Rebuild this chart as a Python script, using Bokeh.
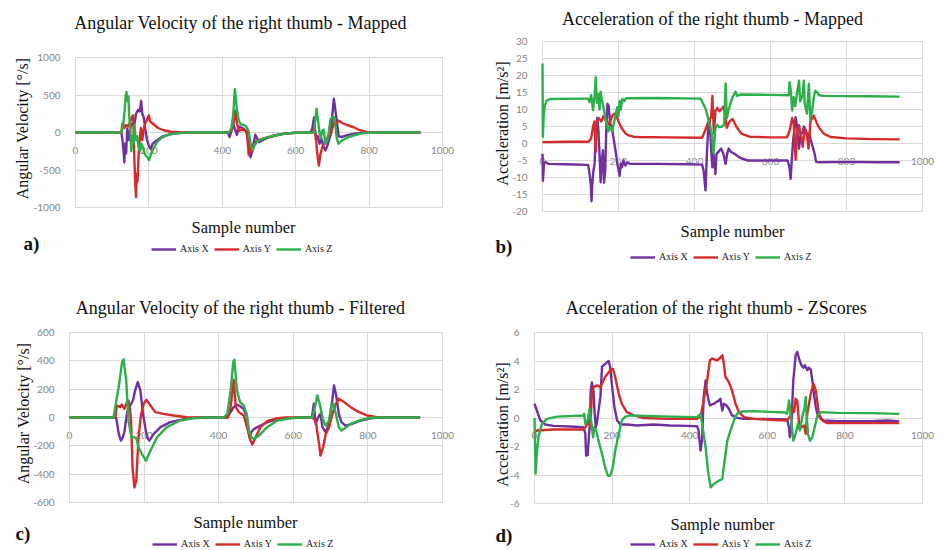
from bokeh.plotting import figure
from bokeh.models import Range1d, Label, Legend, LegendItem, LinearAxis, FixedTicker, Grid
from bokeh.layouts import column, row
from bokeh.embed import file_html
from bokeh.resources import INLINE

SERIES_NAMES = ["Axis X", "Axis Y", "Axis Z"]
COLORS = ["#7030A0", "#D42B2B", "#2DAF4B"]
X_TICKS = [0, 200, 400, 600, 800, 1000]

# ---- a) Angular velocity, mapped  (sample, deg/s)
A_X = [(0,0),(125,0),(128,-100),(131,-250),(133,-400),(135,-150),(138,-280),(141,50),(145,-100),(150,80),(155,120),(160,100),(165,250),(170,300),(175,280),(179,420),(182,250),(186,200),(190,50),(195,-100),(200,-180),(205,-220),(210,-150),(220,-110),(235,-60),(255,-25),(280,-8),(300,0),(415,0),(420,-60),(425,20),(430,100),(435,40),(440,-30),(445,80),(455,60),(465,20),(472,-150),(477,-330),(481,-260),(485,-150),(490,-30),(500,-130),(515,-90),(530,-60),(550,-30),(575,-12),(600,-3),(640,0),(645,50),(650,200),(655,-100),(660,-50),(665,-150),(670,-80),(675,-180),(681,-240),(688,-150),(695,-30),(700,250),(704,450),(708,300),(712,150),(717,-50),(725,-60),(740,-35),(760,-15),(780,-5),(800,0),(940,0)]
A_Y = [(0,0),(125,0),(128,120),(133,60),(138,100),(143,80),(148,130),(153,200),(157,230),(160,-300),(163,-700),(165,-860),(167,-550),(169,-650),(172,-300),(175,-100),(178,60),(182,-100),(186,50),(190,120),(195,180),(200,230),(203,150),(208,130),(215,100),(225,60),(240,30),(260,10),(290,2),(300,0),(418,0),(425,30),(430,100),(436,295),(440,120),(445,20),(452,40),(460,30),(467,10),(472,-300),(476,-150),(480,-260),(485,-200),(492,-120),(500,-100),(520,-70),(545,-40),(570,-15),(600,-3),(620,0),(645,0),(650,50),(655,-50),(658,-250),(663,-440),(667,-300),(672,-200),(681,-110),(688,-60),(695,-40),(700,60),(705,150),(710,120),(716,160),(722,140),(730,120),(740,100),(758,70),(775,30),(795,5),(820,0),(940,0)]
A_Z = [(0,0),(125,0),(130,100),(134,300),(137,500),(139,540),(141,420),(144,480),(146,250),(149,50),(152,-250),(155,-50),(158,-150),(161,100),(164,-100),(168,-50),(172,-200),(176,-250),(180,-150),(185,-220),(190,-300),(196,-330),(200,-370),(205,-300),(212,-220),(222,-130),(235,-70),(250,-35),(270,-12),(300,-2),(320,0),(418,0),(425,60),(430,250),(434,580),(437,450),(440,300),(445,160),(450,110),(458,100),(465,80),(472,20),(477,-150),(482,-230),(488,-170),(495,-120),(505,-95),(527,-58),(563,-20),(600,-3),(640,0),(650,0),(653,150),(657,316),(661,150),(665,0),(668,-80),(672,20),(676,40),(681,-150),(686,-100),(690,0),(695,180),(700,200),(704,204),(708,100),(712,-80),(717,-150),(725,-110),(740,-70),(757,-40),(780,-12),(800,-3),(820,0),(940,0)]
A_TICKS = [-1000, -500, 0, 500, 1000]

# ---- b) Acceleration, mapped  (sample, m/s^2)
B_X = [(0,-3),(1,-11),(4,-6),(8,-5.4),(15,-6),(60,-6.1),(120,-6.3),(124,-9),(127,-12),(129,-17),(131,-12),(134,-8),(137,-6),(140,2),(144,7.5),(147,4),(150,-3),(153,-11.4),(156,-5),(159,-2),(162,-11.5),(165,-8),(168,5),(171,11.7),(174,11),(178,6),(183,4.5),(187,1.5),(192,-2),(197,-6),(203,-9.5),(206,-6),(209,-7),(213,-5),(218,-6.5),(224,-5.5),(230,-6),(300,-6),(380,-6.1),(420,-6.2),(424,-8),(429,-13.8),(433,-2),(437,6),(440,7),(444,-2),(447,-7),(450,-3),(455,-9),(458,-3),(463,-2.5),(470,-1.5),(476,-3),(482,-6),(486,-3),(490,-1.5),(496,-2.5),(505,-3),(520,-4.2),(540,-5),(600,-5),(645,-5),(650,-7),(653,-10.4),(657,-3),(660,1.5),(663,4),(666,7.7),(670,5),(675,-1.5),(680,3),(684,3.1),(688,5),(693,3.9),(698,1.5),(702,3),(706,1),(711,-0.9),(716,-3),(720,-5.4),(730,-5.5),(800,-5.4),(880,-5.5),(940,-5.5)]
B_Y = [(0,0.4),(60,0.5),(121,0.5),(128,1.5),(133,5),(137,6.5),(140,-2.5),(143,6),(148,7.5),(155,6.5),(160,8),(165,7),(170,6.5),(175,5.5),(180,7),(185,8.5),(191,8.8),(195,8),(200,6.5),(209,4.4),(218,3),(226,2.4),(240,2),(252,1.9),(330,1.8),(420,1.7),(427,3.5),(433,5.4),(440,6.9),(444,8),(447,14),(451,3),(455,9.5),(460,10.5),(466,9.5),(470,10),(476,10.8),(480,9),(485,4.6),(490,6),(495,6.8),(500,7.2),(510,5),(523,2.9),(545,2),(600,1.8),(643,1.8),(648,3),(652,4.6),(657,7.5),(661,6),(666,-4.8),(670,3.5),(675,5.4),(681,1.5),(685,-1),(690,4.4),(696,2.5),(700,-1.5),(705,6.4),(710,7.5),(714,8.2),(720,6.5),(727,4.8),(740,2.9),(758,1.9),(800,1.5),(870,1.3),(940,1.2)]
B_Z = [(0,23.5),(1,2),(3,8),(6,11),(10,12.5),(20,13.1),(100,13.2),(121,13.2),(124,12.2),(128,14.2),(133,9.8),(137,14),(140,19.5),(143,12),(147,14.5),(150,10),(153,15.2),(156,13),(160,11),(164,8.3),(168,6),(173,3.6),(178,5),(183,3.5),(188,6),(193,9),(197,10.7),(200,8),(203,12.5),(206,10),(210,13.1),(215,12.5),(220,13.3),(300,13.4),(416,13.2),(429,10.3),(437,6.9),(446,2.4),(450,-2.9),(455,4.6),(460,5.5),(465,4.8),(472,5),(478,5.5),(482,17.6),(485,7.5),(490,10),(495,12),(500,13.5),(503,14.2),(508,15.2),(512,14),(520,14.4),(600,14.3),(648,14.2),(650,18),(653,16),(657,9.7),(661,13.6),(665,11),(670,15),(675,18.5),(678,12.4),(684,14),(688,18.5),(690,11.7),(696,8.8),(701,17.6),(705,6.8),(710,10),(714,13.6),(718,15.5),(723,15),(728,14.2),(740,14),(850,13.9),(940,13.8)]
B_TICKS = [-20, -15, -10, -5, 0, 5, 10, 15, 20, 25, 30]

# ---- c) Angular velocity, filtered
C_X = [(0,0),(125,0),(132,-116),(138,-163),(143,-140),(147,-104),(154,26),(158,70),(163,85),(170,120),(176,190),(183,250),(190,191),(197,26),(203,-68),(208,-139),(214,-163),(226,-116),(244,-68),(270,-33),(315,-7),(340,0),(420,0),(427,20),(432,38),(440,73),(449,90),(457,80),(467,60),(475,10),(483,-139),(488,-100),(493,-85),(499,-75),(512,-57),(530,-35),(557,-12),(593,-3),(620,0),(650,0),(655,97),(660,-45),(669,14),(673,26),(678,-68),(687,-104),(696,-45),(705,132),(709,227),(715,156),(722,26),(729,-33),(740,-57),(758,-45),(781,-21),(808,-5),(830,0),(940,0)]
C_Y = [(0,0),(123,0),(127,85),(136,73),(140,92),(147,61),(154,109),(158,120),(162,60),(165,-21),(169,-352),(174,-494),(179,-446),(185,-139),(192,26),(199,97),(206,125),(217,85),(230,38),(252,26),(279,14),(315,2),(340,0),(425,0),(432,73),(440,267),(446,73),(454,38),(467,14),(476,-68),(485,-163),(490,-191),(499,-139),(512,-68),(530,-26),(557,-5),(580,0),(650,0),(660,-21),(669,-187),(673,-269),(680,-210),(687,-116),(696,-68),(705,26),(714,97),(722,132),(736,109),(754,73),(776,38),(799,14),(825,2),(850,0),(940,0)]
C_Z = [(0,0),(118,0),(132,215),(141,392),(145,411),(152,262),(158,-21),(166,-139),(172,-139),(179,-145),(185,-210),(194,-257),(205,-305),(217,-234),(235,-139),(261,-68),(297,-21),(333,-5),(360,0),(414,0),(423,26),(432,191),(439,392),(442,408),(449,191),(457,109),(467,85),(475,26),(481,-92),(487,-139),(494,-151),(508,-128),(530,-68),(557,-21),(593,-5),(620,0),(651,0),(660,97),(664,156),(671,97),(678,2),(682,-33),(687,-57),(696,-21),(702,85),(707,97),(714,26),(722,-68),(729,-92),(736,-80),(754,-45),(781,-17),(808,-2),(830,0),(940,0)]
C_TICKS = [-600, -400, -200, 0, 200, 400, 600]

# ---- d) Acceleration, z-scores
D_X = [(0,1.0),(6,0.53),(15,-0.18),(28,-0.46),(49,-0.55),(92,-0.6),(126,-0.65),(131,-1.1),(133,-2.64),(137,-2.6),(142,-0.6),(145,1.94),(148,2.5),(152,1.9),(155,0.3),(158,-0.65),(161,-0.3),(165,0.5),(170,1.5),(174,3.6),(178,3.7),(187,3.9),(191,4.0),(195,3.6),(200,2.2),(206,0.76),(213,-0.18),(221,-0.46),(238,-0.46),(264,-0.53),(307,-0.46),(350,-0.53),(393,-0.55),(419,-0.58),(423,-0.88),(428,-2.29),(432,-1.5),(436,1.47),(441,2.64),(445,1.7),(452,0.88),(462,1.0),(475,1.23),(479,1.35),(484,0.53),(488,1.0),(495,0.88),(501,0.65),(509,0.18),(522,0.01),(540,-0.06),(591,-0.06),(651,-0.1),(656,-0.65),(658,-1.35),(662,-0.5),(667,2.64),(673,4.4),(677,4.64),(683,4.05),(688,3.7),(693,3.53),(697,3.7),(703,3.35),(707,3.53),(712,3.4),(716,2.64),(720,1.7),(725,0.76),(729,0.29),(738,-0.06),(746,-0.18),(781,-0.22),(867,-0.22),(910,-0.18),(940,-0.25)]
D_Y = [(0,-1.0),(6,-0.88),(49,-0.81),(92,-0.81),(126,-0.81),(131,-0.65),(135,-0.46),(139,-0.18),(144,-0.65),(148,1.7),(152,2.17),(161,2.29),(170,2.17),(174,2.4),(182,2.88),(195,3.35),(202,3.46),(208,2.88),(217,1.7),(225,1.0),(238,0.41),(256,0.18),(281,0.0),(350,-0.06),(419,-0.06),(428,0.1),(436,1.23),(445,2.64),(452,4.05),(458,4.17),(471,4.05),(479,4.23),(484,4.4),(488,3.82),(492,2.88),(501,2.52),(509,1.94),(518,1.0),(527,0.41),(540,0.06),(565,-0.06),(608,-0.13),(651,-0.18),(660,0.18),(664,0.76),(669,0.41),(673,1.35),(677,1.23),(682,-0.41),(688,-0.65),(695,-0.53),(699,-1.12),(703,0.29),(712,1.7),(719,2.4),(725,1.94),(733,0.29),(742,-0.18),(755,-0.36),(781,-0.36),(867,-0.36),(940,-0.36)]
D_Z = [(0,0.0),(3,-3.9),(6,-2.5),(10,-1.35),(19,-0.41),(32,-0.06),(58,0.1),(126,0.18),(128,0.29),(131,-0.41),(137,-0.18),(142,0.65),(146,-0.18),(151,-1.35),(154,-0.65),(159,-0.88),(165,-1.59),(174,-2.52),(182,-3.46),(189,-4.05),(195,-4.05),(202,-3.46),(208,-2.29),(217,-1.12),(225,-0.18),(234,0.1),(247,0.18),(350,0.1),(419,0.06),(428,0.29),(432,-0.41),(441,-2.06),(447,-3.7),(454,-4.87),(462,-4.64),(475,-4.4),(484,-4.29),(490,-3.0),(497,-1.59),(505,-0.88),(514,-0.18),(522,0.29),(535,0.46),(565,0.48),(608,0.43),(647,0.39),(651,0.29),(656,1.23),(660,0.29),(663,-0.6),(667,-1.59),(673,-1.12),(679,-0.41),(684,-0.88),(690,0.06),(696,0.76),(699,1.47),(701,0.29),(705,-1.12),(710,-1.59),(716,-1.35),(722,-0.65),(729,0.18),(738,0.41),(781,0.36),(867,0.34),(940,0.29)]
D_TICKS = [-6, -4, -2, 0, 2, 4, 6]

SERIF = "Liberation Serif"
SANS = "Lato"
GRID = "#d9d9d9"
TICK_COLOR = "#858585"


def add_text(p, H, x, y, text, size, align="center", angle=0.0, bold=False):
    # x, y: pixels from the panel's top-left corner
    p.add_layout(Label(x=x, y=H - y, x_units="screen", y_units="screen", text=text,
                       text_font=SERIF, text_font_size=size, text_color="#111111",
                       text_align=align, text_baseline="middle", angle=angle,
                       text_font_style="bold" if bold else "normal"))


def panel(series, yticks, W, H, box, title, t_xy, ylab, yl_xy, xl_xy, letter, let_xy, leg_xy):
    L, R, T, B = box            # pixel box of the plotting area inside the panel
    ymin, ymax = yticks[0], yticks[-1]
    sx = 1000.0 / (R - L)
    sy = (ymax - ymin) / (B - T)
    p = figure(width=W, height=H,
               x_range=Range1d(-L * sx, 1000 + (W - R) * sx),
               y_range=Range1d(ymin - (H - B) * sy, ymax + T * sy),
               x_axis_type=None, y_axis_type=None,
               output_backend="svg", toolbar_location=None,
               min_border=0, min_border_left=0, min_border_right=0,
               min_border_top=0, min_border_bottom=0)
    p.outline_line_color = None
    p.background_fill_color = "white"

    # grid lines limited to the plotting area
    pad_x = 0.5 * sx
    pad_y = 0.5 * sy
    p.add_layout(Grid(dimension=0, ticker=FixedTicker(ticks=X_TICKS),
                      bounds=(-pad_x, 1000 + pad_x), cross_bounds=(ymin, ymax),
                      grid_line_color=GRID, grid_line_width=1))
    p.add_layout(Grid(dimension=1, ticker=FixedTicker(ticks=yticks),
                      bounds=(ymin - pad_y, ymax + pad_y), cross_bounds=(0, 1000),
                      grid_line_color=GRID, grid_line_width=1))

    xa = LinearAxis(fixed_location=0, ticker=FixedTicker(ticks=X_TICKS), bounds=(0, 1000))
    xa.axis_line_color = "#bfbfbf"
    xa.major_tick_line_color = None
    xa.minor_tick_line_color = None
    xa.major_label_standoff = 8
    xa.major_label_text_font = SANS
    xa.major_label_text_font_size = "10px"
    xa.major_label_text_color = TICK_COLOR
    xa.level = "underlay"
    p.add_layout(xa, "below")

    ya = LinearAxis(fixed_location=0, ticker=FixedTicker(ticks=yticks), bounds=(ymin, ymax))
    ya.axis_line_color = None
    ya.major_tick_line_color = None
    ya.minor_tick_line_color = None
    ya.major_label_standoff = 9
    ya.major_label_text_font = SANS
    ya.major_label_text_font_size = "10px"
    ya.major_label_text_color = TICK_COLOR
    ya.major_label_overrides = {t: str(t) for t in yticks}
    ya.level = "underlay"
    p.add_layout(ya, "left")

    renderers = []
    for pts, color in zip(series, COLORS):
        xs = [q[0] for q in pts]
        ys = [q[1] for q in pts]
        renderers.append(p.line(xs, ys, line_color=color, line_width=2.4, line_join="round"))

    legend = Legend(items=[LegendItem(label=n, renderers=[r]) for n, r in zip(SERIES_NAMES, renderers)],
                    location=(leg_xy[0], H - leg_xy[1] - 6), orientation="horizontal",
                    border_line_color=None, background_fill_alpha=0,
                    padding=0, margin=0, spacing=5, label_standoff=4,
                    glyph_width=25, glyph_height=10, label_height=10,
                    label_text_font=SERIF, label_text_font_size="10px",
                    label_text_color="#222222")
    p.add_layout(legend)

    add_text(p, H, t_xy[0], t_xy[1], title, "18px")
    add_text(p, H, yl_xy[0], yl_xy[1], ylab, "16px", angle=1.5707963)
    add_text(p, H, xl_xy[0], xl_xy[1], "Sample number", "16.5px")
    add_text(p, H, let_xy[0], let_xy[1], letter, "19px", align="left", bold=True)
    return p


pa = panel([A_X, A_Y, A_Z], A_TICKS, 470, 274, (75, 442, 57, 207),
           "Angular Velocity of the right thumb - Mapped", (240, 22),
           "Angular Velocity [°/s]", (22, 128), (243, 227), "a)", (23, 243), (151, 248))
pb = panel([B_X, B_Y, B_Z], B_TICKS, 471, 274, (72, 452, 41, 211),
           "Acceleration of the right thumb - Mapped", (242, 18),
           "Acceleration [m/s²]", (32, 123), (262, 231), "b)", (25, 246), (160, 256))
pc = panel([C_X, C_Y, C_Z], C_TICKS, 470, 275, (69, 442, 58, 228),
           "Angular Velocity of the right thumb - Filtered", (240, 33),
           "Angular Velocity [°/s]", (23, 139), (245, 248), "c)", (15, 259), (152, 269))
pd_ = panel([D_X, D_Y, D_Z], D_TICKS, 471, 275, (64, 452, 58, 229),
            "Acceleration of the right thumb  - ZScores", (248, 33),
            "Acceleration [m/s²]", (32, 150), (252, 250), "d)", (25, 261), (160, 269))

layout = column(row(pa, pb), row(pc, pd_))
open("out.html", "w").write(file_html(layout, INLINE))
